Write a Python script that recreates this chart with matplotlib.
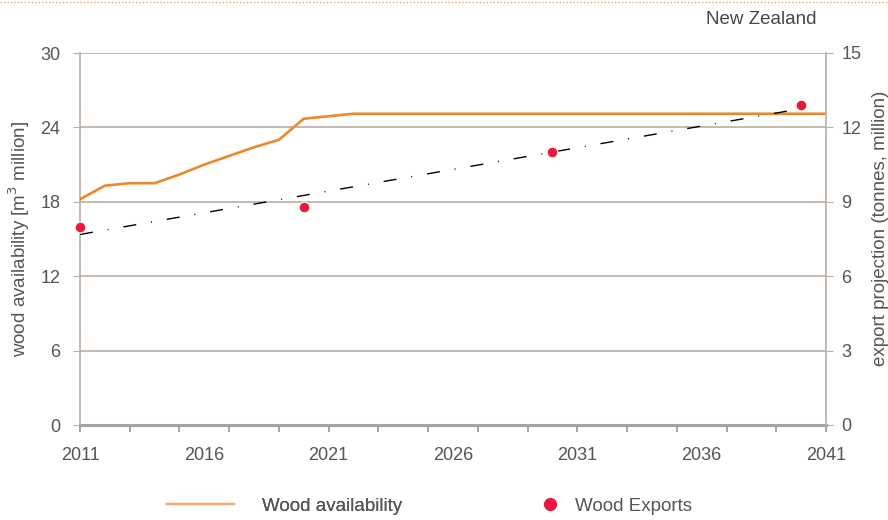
import numpy as np
import matplotlib
matplotlib.use("Agg")
import matplotlib.pyplot as plt
from matplotlib.lines import Line2D

plt.rcParams['font.family'] = ['Liberation Sans', 'DejaVu Sans']

# ---- data ----
avail_years = [2011, 2012, 2013, 2014, 2015, 2016, 2017, 2018, 2019, 2020, 2021, 2022,
               2023, 2024, 2025, 2026, 2027, 2028, 2029, 2030, 2031, 2032, 2033, 2034,
               2035, 2036, 2037, 2038, 2039, 2040, 2041]
avail_values = [18.2, 19.3, 19.5, 19.5, 20.2, 21.0, 21.7, 22.4, 23.0, 24.7, 24.9, 25.1,
                25.1, 25.1, 25.1, 25.1, 25.1, 25.1, 25.1, 25.1, 25.1, 25.1, 25.1, 25.1,
                25.1, 25.1, 25.1, 25.1, 25.1, 25.1, 25.1]
export_years = [2011, 2020, 2030, 2040]
export_values = [8.0, 8.8, 11.0, 12.9]
left_ticks = [0, 6, 12, 18, 24, 30]
right_ticks = [0, 3, 6, 9, 12, 15]
xlabel_years = [2011, 2016, 2021, 2026, 2031, 2036, 2041]

orange = '#e8892b'
red = '#e8193c'
grey_txt = '#555555'
grid_c = '#b9aea6'

fig = plt.figure(figsize=(8.88, 5.2), dpi=100)
ax = fig.add_axes([80/888, 1-425/520, (826-80)/888, (425-53)/520])
ax2 = ax.twinx()

# horizontal grid
for v in left_ticks[1:]:
    ax.axhline(v, color=grid_c, lw=1.2, zorder=0)

line, = ax.plot(avail_years, avail_values, color=orange, lw=1.9, zorder=3,
                solid_joinstyle='miter')

# trend line (linear fit of exports)
coef = np.polyfit(export_years, export_values, 1)
tx = np.array([2011, 2040])
ax2.plot(tx, np.polyval(coef, tx), color='black', lw=1.0,
         dashes=(9.4, 10.8, 0.7, 10.8), zorder=4)
sc = ax2.scatter(export_years, export_values, s=60, color=red, edgecolors='white',
                 linewidths=0.8, zorder=5, clip_on=False)

ax.set_xlim(2011, 2041)
ax.set_ylim(0, 30)
ax2.set_ylim(0, 15)

ax.set_yticks(left_ticks)
ax2.set_yticks(right_ticks)
ax.xaxis.remove_overlapping_locs = False
ax.set_xticks(np.arange(2011, 2042, 2))
ax.set_xticklabels([])
ax.set_xticks(xlabel_years, minor=True)
ax.set_xticklabels([str(y) for y in xlabel_years], minor=True)

for a in (ax, ax2):
    for s in a.spines.values():
        s.set_visible(False)
ax.spines['left'].set_visible(True)
ax.spines['left'].set_color(grid_c)
ax.spines['left'].set_linewidth(1.2)
ax2.spines['right'].set_visible(True)
ax2.spines['right'].set_color(grid_c)
ax2.spines['right'].set_linewidth(1.2)
ax.spines['bottom'].set_visible(True)
ax.spines['bottom'].set_color('#a3a3a3')
ax.spines['bottom'].set_linewidth(2.2)

ax.tick_params(axis='y', which='major', length=5, color=grid_c, labelsize=13,
               labelcolor=grey_txt, pad=9)
ax2.tick_params(axis='y', which='major', length=5, color=grid_c, labelsize=13,
                labelcolor=grey_txt, pad=6)
ax.tick_params(axis='x', which='major', length=5, width=1.4, color='#a3a3a3')
ax.tick_params(axis='x', which='minor', length=0, labelsize=13,
               labelcolor=grey_txt, pad=16)

ax.set_ylabel('wood availability [m$^3$ million]', fontsize=13.5, color=grey_txt,
              labelpad=6)
ax2.set_ylabel('export projection (tonnes, million)', fontsize=13.5, color=grey_txt,
               rotation=90)
ax2.yaxis.set_label_coords(1.062, 0.53)

fig.text(816/888, 1-20/520, 'New Zealand', ha='right', va='center', fontsize=13.5,
         color='#474747')

# top dotted border
fig.add_artist(Line2D([0, 1], [1-2/520, 1-2/520], transform=fig.transFigure,
                      color='#f0a060', lw=1.0, linestyle=(0, (1, 1.5))))

# legends
h1 = Line2D([], [], color='#f0a868', lw=1.6)
leg1 = ax.legend([h1], ['Wood availability'], loc='center left',
                 bbox_to_anchor=(150/888, 1-506/520), bbox_transform=fig.transFigure,
                 frameon=False, fontsize=13.5, handlelength=3.6, handletextpad=1.5,
                 labelcolor=grey_txt)
ax.add_artist(leg1)
h2 = Line2D([], [], color=red, marker='o', lw=0, markersize=8.5)
ax2.legend([h2], ['Wood Exports'], loc='center left',
           bbox_to_anchor=(524/888, 1-506/520), bbox_transform=fig.transFigure,
           frameon=False, fontsize=13.5, handlelength=1.0, handletextpad=0.8,
           labelcolor=grey_txt)

fig.savefig('out.png', dpi=100)
